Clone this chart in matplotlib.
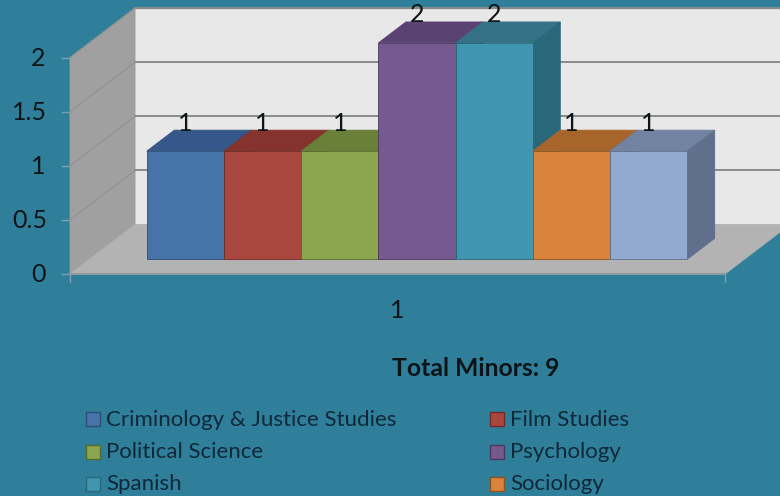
import matplotlib
matplotlib.use("Agg")
import matplotlib.pyplot as plt
from matplotlib.patches import Polygon, Rectangle

plt.rcParams['font.family'] = ['Lato', 'DejaVu Sans']

#chart data
MINORS = ["Criminology & Justice Studies", "Film Studies", "Political Science", "Psychology",
          "Spanish", "Sociology", ""]
COUNTS = [1, 1, 1, 2, 2, 1, 1]
Y_TICKS = [0, 0.5, 1, 1.5, 2]
Y_TICK_LABELS = ["0", "0.5", "1", "1.5", "2"]
CATEGORY_LABEL = "1"
TOTAL_LABEL = "Total Minors: 9"

FRONT_COLORS = ["#4674a8", "#a9473f", "#8ba64f", "#75598f", "#4096af", "#da843b", "#92a9d0"]
TOP_COLORS = ["#36578a", "#85332e", "#6a8038", "#5a4372", "#357187", "#a8652b", "#7183a1"]
SIDE_COLORS = ["#2f4c74", "#702b27", "#566a2e", "#4b3860", "#29677a", "#8c5423", "#5f6f8c"]

BG = "#2f7f9b"
TEXT = "#0c1418"

#oblique projection, everything in pixels of the 780x496 picture
X0, Y0 = 70, 274
WIDTH = 655
UNIT = 108.2
DEPTH_X, DEPTH_Y = 65, 49.5
BAR_WIDTH = 77.2
GAP = 57.5
BAR_D0, BAR_D1 = 0.297, 0.72
Y_MAX = max(Y_TICKS)


def project(u, v, d):
    return (X0 + u + d * DEPTH_X, Y0 - v * UNIT - d * DEPTH_Y)


fig = plt.figure(figsize=(7.8, 4.96), dpi=100, facecolor=BG)
ax = fig.add_axes([0, 0, 1, 1])
ax.set_xlim(0, 780)
ax.set_ylim(496, 0)
ax.axis("off")


def face(points, color, edge=None, z=1):
    ax.add_patch(Polygon(points, closed=True, facecolor=color, edgecolor=edge or color, linewidth=0.6, zorder=z))


#walls and floor
back = [project(0, 0, 1), project(WIDTH + 10, 0, 1), project(WIDTH + 10, Y_MAX, 1), project(0, Y_MAX, 1)]
face(back, "#e8e8e8")
ax.plot([back[0][0], 780], [back[3][1], back[3][1]], color="#a8a8a8", lw=1, zorder=2)
face([project(0, 0, 0), project(0, 0, 1), project(0, Y_MAX, 1), project(0, Y_MAX, 0)], "#a0a0a0")
face([project(0, 0, 0), project(WIDTH, 0, 0), project(WIDTH, 0, 1), project(0, 0, 1)], "#b3b3b3")
ax.plot(*zip(project(0, 0, 0), project(WIDTH, 0, 0)), color="#8f9a9e", lw=1.5, zorder=2)

#gridlines on the wall and tick marks
for tick, label in zip(Y_TICKS, Y_TICK_LABELS):
    if tick > 0:
        a = project(0, tick, 1)
        ax.plot([a[0], 780], [a[1], a[1]], color="#8a8a8a", lw=1.4, zorder=2)
        ax.plot(*zip(project(0, tick, 0), a), color="#919191", lw=0.8, zorder=2)
    f = project(0, tick, 0)
    ax.plot([f[0] - 8, f[0]], [f[1], f[1]], color="#7fa0ac", lw=1, zorder=2)
    ax.text(47 if tick % 1 else 38, f[1] + 1, label, ha="right" if tick % 1 else "center", va="center",
            fontsize=18, color=TEXT)
for u in (0, WIDTH):
    f = project(u, 0, 0)
    ax.plot([f[0], f[0]], [f[1], f[1] + 8], color="#7fa0ac", lw=1, zorder=2)

#bars, left to right so each one covers the side of the previous
for i, count in enumerate(COUNTS):
    left = GAP + i * BAR_WIDTH
    right = left + BAR_WIDTH
    face([project(left, count, BAR_D0), project(right, count, BAR_D0),
          project(right, count, BAR_D1), project(left, count, BAR_D1)], TOP_COLORS[i], z=3)
    face([project(right, 0, BAR_D0), project(right, 0, BAR_D1),
          project(right, count, BAR_D1), project(right, count, BAR_D0)], SIDE_COLORS[i], z=3)
    face([project(left, 0, BAR_D0), project(right, 0, BAR_D0),
          project(right, count, BAR_D0), project(left, count, BAR_D0)], FRONT_COLORS[i],
         edge=SIDE_COLORS[i], z=3)
    cx, cy = project((left + right) / 2, count, BAR_D0)
    ax.text(cx, cy - 28, str(count), ha="center", va="center", fontsize=18, color=TEXT, zorder=5)

ax.text(397, 310, CATEGORY_LABEL, ha="center", va="center", fontsize=18, color=TEXT)
ax.text(476, 368, TOTAL_LABEL, ha="center", va="center", fontsize=17.8, fontweight="bold", color=TEXT)

#legend, two columns, the last row falls off the picture
for i, name in enumerate(MINORS[:6]):
    row, col = i // 2, i % 2
    lx = 86 if col == 0 else 490
    ly = 419 + row * 32.5
    ax.add_patch(Rectangle((lx, ly - 7), 14, 14, facecolor=FRONT_COLORS[i], edgecolor=SIDE_COLORS[i], lw=1))
    ax.text(lx + 20, ly + 0.5, name, ha="left", va="center", fontsize=16, color="#102838")

fig.savefig("out.png", dpi=100, facecolor=BG)
